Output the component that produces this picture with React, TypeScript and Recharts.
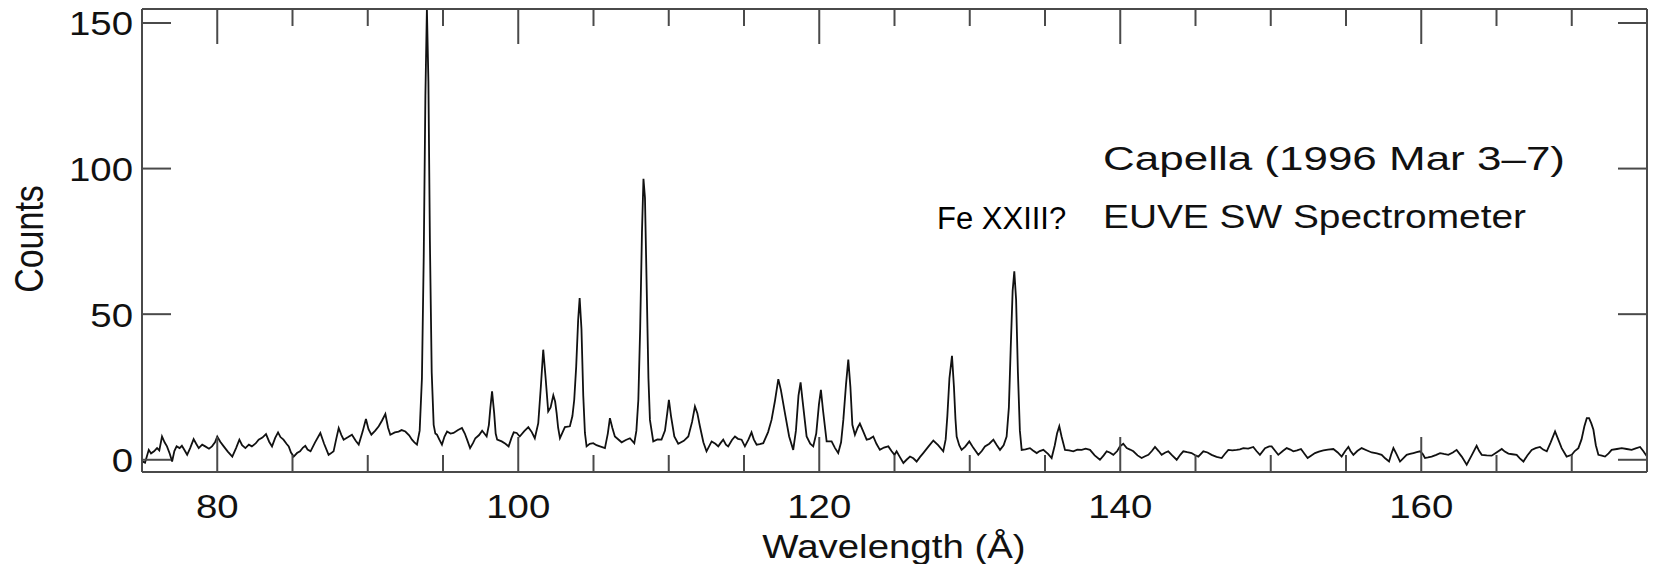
import React from "react";
import { LineChart, Line, XAxis, YAxis } from "recharts";

// wavelength (Å) sampled off the spectrum
const wavelengths = [
  75.0, 75.2, 75.45, 75.6, 75.8, 76.0, 76.15, 76.33, 76.5, 76.66, 76.85, 77.0, 77.15, 77.3, 77.5, 77.65, 77.8, 78.0, 78.2, 78.43,
  78.6, 78.77, 79.0, 79.2, 79.45, 79.65, 79.85, 80.0, 80.2, 80.43, 80.7, 81.0, 81.25, 81.47, 81.65, 81.87, 82.1, 82.3, 82.55, 82.75,
  83.0, 83.24, 83.45, 83.64, 83.85, 84.04, 84.2, 84.4, 84.6, 84.75, 84.9, 85.08, 85.3, 85.5, 85.7, 85.85, 86.0, 86.2, 86.5, 86.85,
  87.1, 87.4, 87.55, 87.73, 87.9, 88.07, 88.25, 88.4, 88.7, 88.95, 89.2, 89.4, 89.65, 89.88, 90.05, 90.24, 90.5, 90.73, 90.95, 91.17,
  91.35, 91.5, 91.8, 92.05, 92.25, 92.5, 92.75, 92.94, 93.1, 93.27, 93.45, 93.6, 93.72, 93.83, 93.93, 94.03, 94.13, 94.25, 94.38, 94.49,
  94.6, 94.75, 94.93, 95.1, 95.27, 95.5, 95.7, 96.0, 96.26, 96.45, 96.6, 96.8, 97.0, 97.15, 97.4, 97.6, 97.75, 97.9, 98.05, 98.15,
  98.26, 98.4, 98.5, 98.6, 98.9, 99.15, 99.36, 99.55, 99.7, 99.9, 100.1, 100.4, 100.67, 100.9, 101.1, 101.33, 101.5, 101.66, 101.82, 101.99,
  102.15, 102.33, 102.45, 102.55, 102.65, 102.77, 102.95, 103.1, 103.43, 103.6, 103.72, 103.85, 103.98, 104.08, 104.2, 104.32, 104.43, 104.54, 104.75, 104.98,
  105.2, 105.43, 105.76, 105.95, 106.09, 106.25, 106.42, 106.87, 107.15, 107.42, 107.71, 107.85, 107.98, 108.1, 108.22, 108.32, 108.42, 108.55, 108.65, 108.75,
  108.97, 109.25, 109.52, 109.75, 109.9, 110.01, 110.15, 110.37, 110.63, 111.0, 111.3, 111.55, 111.74, 111.9, 112.07, 112.3, 112.51, 112.85, 113.1, 113.29,
  113.45, 113.62, 113.8, 113.95, 114.2, 114.4, 114.6, 114.84, 115.06, 115.3, 115.5, 115.65, 115.84, 116.05, 116.28, 116.6, 116.83, 117.05, 117.28, 117.45,
  117.72, 118.0, 118.27, 118.45, 118.62, 118.76, 118.9, 119.16, 119.4, 119.6, 119.8, 119.98, 120.11, 120.25, 120.49, 120.82, 121.05, 121.26, 121.45, 121.6,
  121.78, 121.93, 122.07, 122.2, 122.37, 122.55, 122.7, 122.9, 123.15, 123.35, 123.59, 123.8, 124.03, 124.3, 124.59, 124.8, 125.0, 125.14, 125.35, 125.59,
  125.8, 126.03, 126.25, 126.47, 126.7, 126.91, 127.25, 127.58, 127.9, 128.24, 128.4, 128.51, 128.65, 128.82, 128.95, 129.05, 129.13, 129.3, 129.46, 129.7,
  129.97, 130.25, 130.57, 130.8, 131.01, 131.3, 131.57, 131.8, 132.01, 132.25, 132.45, 132.6, 132.72, 132.85, 132.96, 133.08, 133.2, 133.33, 133.45, 133.7,
  134.0, 134.2, 134.45, 134.65, 134.89, 135.2, 135.44, 135.65, 135.8, 135.95, 136.1, 136.33, 136.6, 136.88, 137.15, 137.44, 137.7, 137.99, 138.3, 138.65,
  138.9, 139.1, 139.3, 139.54, 139.8, 139.98, 140.2, 140.43, 140.65, 140.87, 141.15, 141.42, 141.65, 141.87, 142.1, 142.31, 142.55, 142.75, 143.0, 143.19,
  143.45, 143.75, 144.0, 144.19, 144.45, 144.74, 145.0, 145.19, 145.52, 145.8, 146.07, 146.4, 146.74, 146.95, 147.18, 147.45, 147.73, 147.95, 148.18, 148.5,
  148.84, 149.05, 149.28, 149.62, 149.9, 150.06, 150.3, 150.5, 150.8, 151.06, 151.3, 151.5, 151.75, 152.01, 152.25, 152.45, 152.7, 152.94, 153.2, 153.5,
  153.8, 154.16, 154.45, 154.71, 154.95, 155.16, 155.3, 155.49, 155.75, 156.04, 156.4, 156.71, 157.05, 157.37, 157.6, 157.86, 158.0, 158.15, 158.35, 158.59,
  158.8, 159.03, 159.25, 159.48, 159.7, 159.92, 160.1, 160.25, 160.45, 160.69, 161.0, 161.25, 161.5, 161.8, 162.1, 162.35, 162.7, 163.02, 163.35, 163.68,
  163.85, 164.02, 164.35, 164.68, 165.0, 165.35, 165.55, 165.79, 166.05, 166.34, 166.55, 166.79, 167.05, 167.34, 167.6, 167.89, 168.1, 168.34, 168.6, 168.89,
  169.1, 169.33, 169.66, 170.0, 170.2, 170.44, 170.65, 170.84, 171.0, 171.15, 171.3, 171.44, 171.6, 171.77, 172.0, 172.21, 172.45, 172.65, 173.0, 173.32,
  173.65, 173.98, 174.25, 174.54, 174.75, 175.0,
];

// counts at each wavelength above
const counts = [
  -0.5, -1, 3.4, 2.2, 2.9, 4, 3.2, 8, 6, 4.6, 2, -0.6, 3, 4.6, 4, 4.8, 3.5, 1.7, 4, 7.1,
  5.5, 4, 5.2, 4.6, 3.8, 4.6, 6, 8, 6.2, 4.6, 2.8, 1.1, 4, 6.9, 5, 4, 5.2, 4.6, 5.6, 6.9,
  7.6, 8.8, 6.2, 4.6, 7.5, 9.4, 7.8, 6.9, 5.5, 4.6, 2.5, 1.1, 2.3, 2.9, 4.2, 4.8, 3.5, 2.9, 6, 9.2,
  5.5, 1.7, 2.2, 2.9, 7, 10.9, 8.5, 6.9, 7.8, 8.6, 6.5, 5.2, 9.5, 14, 10.5, 8.6, 10, 11.5, 13.5, 15.7,
  11, 8.6, 9.4, 9.7, 10.2, 9.7, 8.4, 6.9, 6, 5.2, 10, 28, 70, 125, 155, 130, 75, 30, 12, 9,
  8.6, 7, 5.2, 8, 9.7, 9, 9.2, 10.2, 10.9, 9, 6.9, 4, 5.8, 7.4, 8.5, 10, 9, 8, 12, 18,
  23.5, 16, 9, 6.9, 6.3, 5.5, 4.6, 7.5, 9.4, 9.2, 8, 9.8, 11.2, 9.5, 7.4, 12.6, 25, 37.8, 28, 16.6,
  18, 22.1, 20, 16, 11, 7.4, 9.5, 11.2, 11.5, 15, 20.6, 32, 48, 55.5, 45, 22, 9.2, 4.6, 5.5, 5.7,
  5, 4.6, 4, 9, 14.3, 11, 8, 6, 6.8, 7.4, 5.7, 10, 20.6, 45, 78, 96.5, 90, 55, 28, 13.7,
  6.3, 7, 6.9, 10, 16, 20.6, 15, 8, 5.5, 6.5, 8, 13, 18.3, 16, 11.5, 6, 2.9, 6.3, 5.5, 4.6,
  5.8, 6.9, 5.2, 4.6, 6.8, 8, 7.2, 6.9, 4.6, 7, 9.4, 7, 5.2, 5.4, 5.7, 9.5, 13.7, 20, 27.7, 24,
  16, 8, 3.4, 10, 22, 26.6, 20, 8, 5.5, 4.6, 9, 19, 24, 17, 6.3, 6.3, 4, 2.3, 6, 13.7,
  26, 34.4, 25, 12, 8.6, 11, 12.4, 10, 6.9, 7.2, 8, 5.5, 3.4, 4.2, 4.6, 3, 1.7, 2.9, 1, -1.1,
  0, 1.1, 0.5, -0.6, 1, 2.3, 4.5, 6.6, 5, 2.9, 7, 14.9, 28, 35.7, 25, 14, 8, 5, 3.4, 4.5,
  6.3, 4, 1.7, 3, 4.6, 5.5, 6.9, 5, 3.4, 5, 8, 18, 38, 58, 64.7, 55, 30, 10, 3.4, 3.6,
  4, 3.2, 2.3, 3, 3.4, 2, 0.6, 5, 9, 11.5, 8, 3.4, 3.2, 2.9, 3.5, 3.4, 3.8, 3.4, 1.5, 0,
  1.5, 2.9, 2.5, 1.7, 3, 4.6, 5.5, 4, 3.5, 2.9, 1.5, 0.6, 1.2, 1.7, 3, 4.4, 3, 1.7, 2.5, 2.9,
  1.5, 0, 1.8, 2.9, 2.6, 2.3, 1.5, 1.1, 2.9, 2.5, 1.7, 1, 0.6, 2, 3.4, 3.2, 3.4, 3.6, 4, 3.8,
  4.4, 3, 1.7, 4, 4.6, 4.6, 3, 1.7, 3, 4, 3.5, 2.9, 3.2, 3.7, 2, 0.6, 1.5, 2.3, 2.8, 3.2,
  3.5, 3.7, 2.5, 1.1, 3, 4.4, 3, 1.7, 3, 4, 3.2, 2.5, 2.2, 1.7, 0.5, -0.6, 1.8, 4, 2, -0.6,
  0.5, 1.7, 2, 2.3, 2.6, 2.9, 2, 0.6, 0.8, 1.1, 1.7, 2.3, 2, 1.7, 2.5, 3.4, 1, -1.7, 1.5, 4.8,
  3, 1.7, 1.5, 1.4, 2.5, 3.7, 2.8, 2.1, 1.9, 1.7, 0.5, -0.6, 1.5, 3.4, 4, 4.4, 3.5, 2.9, 6, 9.7,
  7, 4, 1.1, 1.7, 3, 4, 7, 11.5, 14.3, 14.3, 12.5, 10.3, 5, 1.7, 1.4, 1.1, 2.2, 3.4, 3.7, 4,
  3.7, 3.4, 3.9, 4.4, 3, 1.1,
];

const xTicks = [75, 80, 85, 90, 95, 100, 105, 110, 115, 120, 125, 130, 135, 140, 145, 150, 155, 160, 165, 170, 175];
const xLabels = [80, 100, 120, 140, 160];
const yTicks = [0, 50, 100, 150];

const data = wavelengths.map((w, i) => ({ w, c: counts[i] }));

const FONT = "'Liberation Sans', Arial, Helvetica, sans-serif";
const AXIS = "#4a4a4a";
const STRETCH = 1.13; // the original lettering is a bit wider than Liberation Sans

const W = 1642;
const H = 556;

function WideText({ x, y, anchor = "start", size = 34, children }: any) {
  return (
    <text transform={`translate(${x} ${y}) scale(${STRETCH} 1)`} textAnchor={anchor} fontSize={size} fontFamily={FONT} fill="#111">
      {children}
    </text>
  );
}

function BottomTick(props: any) {
  const { x, y, payload } = props;
  const v = payload.value;
  const major = v % 20 === 0;
  return (
    <g>
      <line x1={x} x2={x} y1={y} y2={y - (major ? 35 : 17)} stroke={AXIS} strokeWidth={2} />
      {xLabels.includes(v) && <WideText x={x} y={y + 46} anchor="middle">{v}</WideText>}
    </g>
  );
}

function TopTick(props: any) {
  const { x, y, payload } = props;
  const major = payload.value % 20 === 0;
  return <line x1={x} x2={x} y1={y} y2={y + (major ? 35 : 17)} stroke={AXIS} strokeWidth={2} />;
}

function LeftTick(props: any) {
  const { x, y, payload } = props;
  return (
    <g>
      <line x1={x} x2={x + 29} y1={y} y2={y} stroke={AXIS} strokeWidth={2} />
      <WideText x={x - 9} y={y + 12.5} anchor="end">{payload.value}</WideText>
    </g>
  );
}

function RightTick(props: any) {
  const { x, y } = props;
  return <line x1={x} x2={x - 29} y1={y} y2={y} stroke={AXIS} strokeWidth={2} />;
}

export default function App() {
  return (
    <div style={{ position: "relative", width: W, height: H }}>
      <LineChart width={W} height={H} data={data} margin={{ top: 0, right: 0, bottom: 0, left: 0 }}>
        <XAxis dataKey="w" type="number" domain={[75, 175]} ticks={xTicks} interval={0} allowDataOverflow
          height={92} tickSize={0} tickMargin={0} tick={<BottomTick />} stroke={AXIS} strokeWidth={2} tickLine={false} />
        <XAxis xAxisId="top" orientation="top" dataKey="w" type="number" domain={[75, 175]} ticks={xTicks} interval={0}
          allowDataOverflow height={1} tickSize={0} tickMargin={0} tick={<TopTick />} stroke={AXIS} strokeWidth={2} tickLine={false} />
        <YAxis type="number" domain={[-4.2, 154.8]} ticks={yTicks} interval={0} allowDataOverflow width={134}
          tickSize={0} tickMargin={0} tick={<LeftTick />} stroke={AXIS} strokeWidth={2} tickLine={false} />
        <YAxis yAxisId="right" orientation="right" type="number" domain={[-4.2, 154.8]} ticks={yTicks} interval={0}
          allowDataOverflow width={3} tickSize={0} tickMargin={0} tick={<RightTick />} stroke={AXIS} strokeWidth={2} tickLine={false} />
        <Line type="linear" dataKey="c" stroke="#111" strokeWidth={1.8} dot={false} isAnimationActive={false} />
      </LineChart>
      <svg width={W} height={H} style={{ position: "absolute", left: 0, top: 0, pointerEvents: "none" }}>
        <text transform={`translate(35 231) scale(1.2 1) rotate(-90)`} textAnchor="middle" fontSize={34} fontFamily={FONT} fill="#111">Counts</text>
        <WideText x={886} y={550} anchor="middle">Wavelength (Å)</WideText>
        <text x={1095} y={162} fontSize={34} fontFamily={FONT} fill="#111" textLength={462} lengthAdjust="spacingAndGlyphs">Capella (1996 Mar 3–7)</text>
        <text x={1095} y={220} fontSize={34} fontFamily={FONT} fill="#111" textLength={423} lengthAdjust="spacingAndGlyphs">EUVE SW Spectrometer</text>
        <text x={929} y={221} fontSize={31} fontFamily={FONT} fill="#000">Fe XXIII?</text>
      </svg>
    </div>
  );
}
